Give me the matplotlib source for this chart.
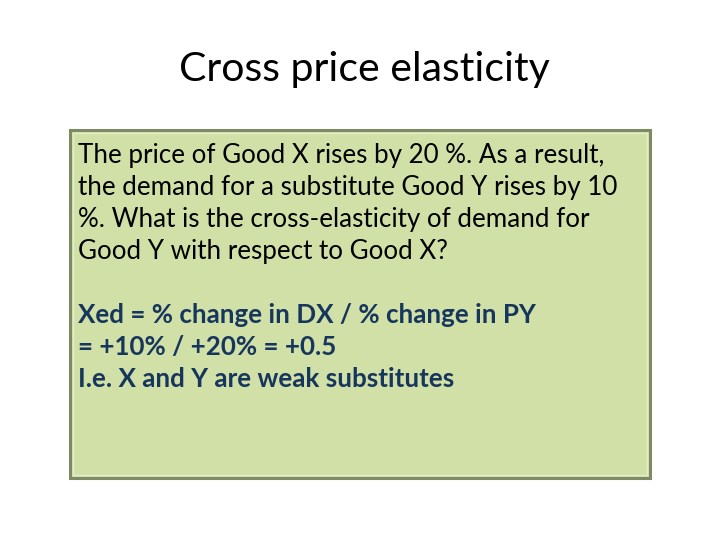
import matplotlib.pyplot as plt
from matplotlib.patches import Rectangle

title = "Cross price elasticity"
question_lines = [
    "The price of Good X rises by 20 %. As a result,",
    "the demand for a substitute Good Y rises by 10",
    "%. What is the cross-elasticity of demand for",
    "Good Y with respect to Good X?",
]
answer_lines = [
    "Xed = % change in DX / % change in PY",
    "= +10% / +20% = +0.5",
    "I.e. X and Y are weak substitutes",
]

W, H = 728, 546
fig = plt.figure(figsize=(W / 100, H / 100), dpi=100)
ax = fig.add_axes([0, 0, 1, 1])
ax.set_xlim(0, W)
ax.set_ylim(H, 0)
ax.axis('off')

# box with a little bevel
ax.add_patch(Rectangle((70, 130), 580, 348, facecolor='#d1e0a6',
                       edgecolor='#7d8a63', linewidth=2.2))
ax.add_patch(Rectangle((73, 133), 574, 342, facecolor='none',
                       edgecolor='#e4edc8', linewidth=1.0))

font = 'Lato'
ax.text(364, 70, title, fontsize=29.5, family=font, ha='center', va='center')

y = 155
for line in question_lines:
    ax.text(78, y, line, fontsize=18.7, family=font, va='center', color='black')
    y += 32
y += 32
for line in answer_lines:
    ax.text(78, y, line, fontsize=18.7, family=font, va='center',
            color='#17365d', fontweight='bold')
    y += 32

fig.savefig('out.png', dpi=100)
